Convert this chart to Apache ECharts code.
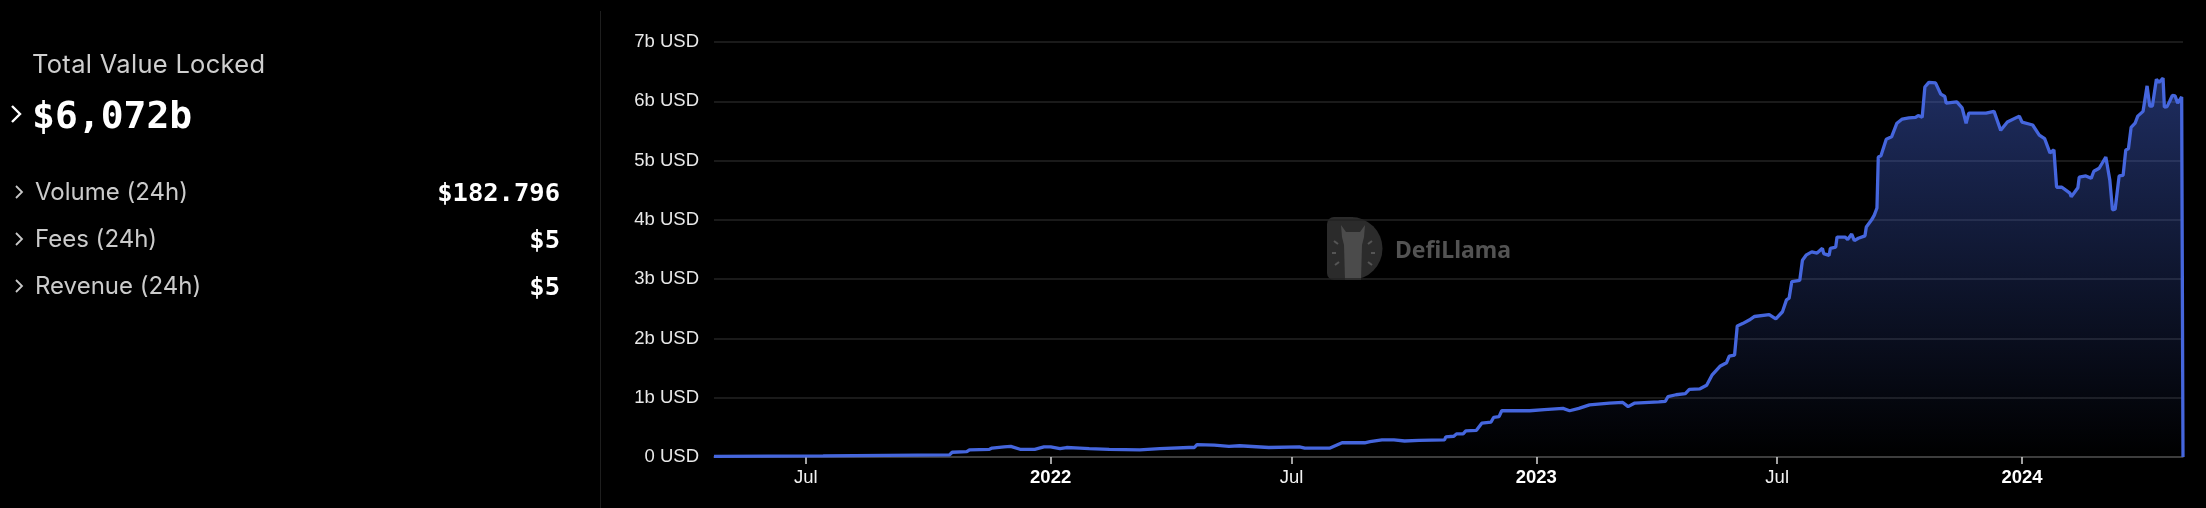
<!DOCTYPE html>
<html>
<head>
<meta charset="utf-8">
<script src="https://cdn.jsdelivr.net/npm/echarts@6/dist/echarts.min.js"></script>
<style>
  html, body { margin: 0; padding: 0; background: #000; width: 2206px; height: 508px; overflow: hidden; }
  #chart { position: absolute; left: 0; top: 0; width: 2206px; height: 508px; }
  #panel { position: absolute; left: 0; top: 0; width: 600px; height: 508px; z-index: 2; font-family: Inter, "Noto Sans", sans-serif; }
  #divider { position: absolute; left: 600px; top: 11px; width: 1px; height: 497px; background: #1e1e1e; z-index: 2; }
  .lbl { position: absolute; left: 35px; font-size: 24px; line-height: 24px; color: #cbcbcb; white-space: nowrap; }
  .val { position: absolute; left: 0; width: 560px; text-align: right; font-family: "DejaVu Sans Mono", monospace; font-weight: bold; font-size: 25.5px; line-height: 24px; color: #fff; white-space: nowrap; }
  .chev { position: absolute; }
</style>
</head>
<body>
<div id="chart"></div>
<div id="divider"></div>
<div id="panel">
  <div class="lbl" style="left:32px; top:51px; font-size:25.5px; line-height:25px; letter-spacing:0.3px; color:#cfcfcf;">Total Value Locked</div>
  <svg class="chev" style="left:9px; top:104px;" width="14" height="20"><polyline points="3,2 11,10 3,18" fill="none" stroke="#fff" stroke-width="2.4"/></svg>
  <div class="val" style="left:32px; width:auto; text-align:left; top:96px; font-size:38px; line-height:38px;">$6,072b</div>

  <svg class="chev" style="left:13px; top:184px;" width="12" height="16"><polyline points="3,2 9,8 3,14" fill="none" stroke="#c8c8c8" stroke-width="1.8"/></svg>
  <div class="lbl" style="top:180px;">Volume (24h)</div>
  <div class="val" style="top:180px;">$182.796</div>

  <svg class="chev" style="left:13px; top:231px;" width="12" height="16"><polyline points="3,2 9,8 3,14" fill="none" stroke="#c8c8c8" stroke-width="1.8"/></svg>
  <div class="lbl" style="top:227px;">Fees (24h)</div>
  <div class="val" style="top:227px;">$5</div>

  <svg class="chev" style="left:13px; top:278px;" width="12" height="16"><polyline points="3,2 9,8 3,14" fill="none" stroke="#c8c8c8" stroke-width="1.8"/></svg>
  <div class="lbl" style="top:274px;">Revenue (24h)</div>
  <div class="val" style="top:274px;">$5</div>
</div>
<script>
// ---- data (TVL in billions USD) ----
const dates2021 = ['2021-04-23','2021-07-14','2021-10-17','2021-10-19','2021-10-30','2021-11-01','2021-11-16','2021-11-18','2021-11-27','2021-12-02','2021-12-09','2021-12-20','2021-12-27'];
const tvl2021   = [0.01,0.02,0.035,0.08,0.09,0.12,0.13,0.15,0.17,0.18,0.13,0.13,0.17];

const dates2022 = ['2022-01-01','2022-01-08','2022-01-13','2022-01-23','2022-01-30','2022-02-14','2022-03-09','2022-03-24','2022-04-15','2022-04-19','2022-04-21','2022-05-04','2022-05-15','2022-05-23','2022-06-14','2022-07-07','2022-07-11','2022-07-30','2022-08-02','2022-08-08','2022-08-25','2022-08-29','2022-09-07','2022-09-16','2022-09-24','2022-10-05','2022-10-24','2022-10-25','2022-10-31','2022-11-02','2022-11-07','2022-11-09','2022-11-17','2022-11-21','2022-11-28','2022-11-30','2022-12-04','2022-12-06','2022-12-27'];
const tvl2022   = [0.17,0.14,0.16,0.15,0.14,0.13,0.12,0.14,0.16,0.16,0.21,0.20,0.18,0.19,0.16,0.17,0.15,0.15,0.18,0.24,0.24,0.26,0.29,0.29,0.27,0.28,0.29,0.34,0.35,0.39,0.39,0.44,0.45,0.57,0.59,0.67,0.68,0.78,0.78];

const dates2023a = ['2023-01-07','2023-01-21','2023-01-26','2023-02-02','2023-02-10','2023-02-25','2023-03-07','2023-03-11','2023-03-16','2023-04-03','2023-04-08','2023-04-10','2023-04-16','2023-04-23','2023-04-26','2023-05-04','2023-05-09','2023-05-13','2023-05-19','2023-05-24','2023-05-26','2023-05-30','2023-06-01','2023-06-05','2023-06-10','2023-06-14','2023-06-25','2023-06-30'];
const tvl2023a   = [0.80,0.82,0.78,0.82,0.88,0.91,0.92,0.85,0.91,0.93,0.94,1.02,1.05,1.07,1.14,1.15,1.21,1.38,1.53,1.59,1.70,1.72,2.21,2.25,2.31,2.37,2.40,2.33];

const dates2023b = ['2023-07-05','2023-07-08','2023-07-10','2023-07-12','2023-07-18','2023-07-20','2023-07-23','2023-07-27','2023-07-31','2023-08-04','2023-08-05','2023-08-09','2023-08-10','2023-08-14','2023-08-15','2023-08-21','2023-08-23','2023-08-26','2023-08-28','2023-08-31','2023-09-05','2023-09-06','2023-09-10','2023-09-12','2023-09-14','2023-09-15','2023-09-17','2023-09-21','2023-09-25','2023-09-29'];
const tvl2023b   = [2.45,2.65,2.68,2.96,2.98,3.32,3.41,3.46,3.44,3.52,3.43,3.40,3.52,3.54,3.71,3.71,3.67,3.76,3.65,3.69,3.73,3.88,4.00,4.08,4.20,5.06,5.08,5.36,5.40,5.63];

const dates2023c = ['2023-10-03','2023-10-08','2023-10-13','2023-10-15','2023-10-18','2023-10-20','2023-10-23','2023-10-28','2023-11-01','2023-11-04','2023-11-05','2023-11-13','2023-11-17','2023-11-20','2023-11-22','2023-12-05','2023-12-11','2023-12-16','2023-12-21','2023-12-30'];
const tvl2023c   = [5.70,5.72,5.73,5.76,5.73,6.24,6.32,6.31,6.12,6.08,5.97,5.99,5.89,5.63,5.80,5.80,5.83,5.51,5.65,5.75];

const dates2024 = ['2024-01-01','2024-01-09','2024-01-14','2024-01-18','2024-01-22','2024-01-25','2024-01-27','2024-01-31',
                   '2024-02-06','2024-02-07','2024-02-09','2024-02-12','2024-02-13','2024-02-18','2024-02-22','2024-02-24','2024-02-28',
                   '2024-03-04','2024-03-07','2024-03-09','2024-03-11','2024-03-14','2024-03-17','2024-03-19','2024-03-21','2024-03-23','2024-03-26','2024-03-28',
                   '2024-04-01','2024-04-04','2024-04-06','2024-04-08','2024-04-11','2024-04-13','2024-04-16','2024-04-17','2024-04-19','2024-04-21','2024-04-23','2024-04-25','2024-04-27','2024-04-28','2024-04-30',
                   '2024-05-01'];
const tvl2024   = [5.65,5.60,5.43,5.37,5.13,5.18,4.55,4.55,
                   4.45,4.39,4.45,4.54,4.72,4.74,4.70,4.82,4.87,
                   5.06,4.67,4.17,4.18,4.74,4.75,5.18,5.20,5.56,5.63,5.75,
                   5.83,6.26,5.92,5.92,6.37,6.32,6.39,5.90,5.91,6.00,6.10,6.09,5.97,5.96,6.072,
                   0];

const xTickDates = ['2021-07-01','2022-01-01','2022-07-01','2023-01-01','2023-07-01','2024-01-01'];
const yTicks = [0,1,2,3,4,5,6,7];
const monthNames = ['Jan','Feb','Mar','Apr','May','Jun','Jul','Aug','Sep','Oct','Nov','Dec'];

// ---- build ----
const allDates = [].concat(dates2021, dates2022, dates2023a, dates2023b, dates2023c, dates2024);
const allTvl = [].concat(tvl2021, tvl2022, tvl2023a, tvl2023b, tvl2023c, tvl2024);
const toTs = s => new Date(s + 'T00:00:00').getTime();
const seriesData = allDates.map((d, i) => [toTs(d), allTvl[i]]);
const tickTs = xTickDates.map(toTs);

const lineColor = '#4566dd';
const chart = echarts.init(document.getElementById('chart'), null, { renderer: 'canvas' });
chart.setOption({
  backgroundColor: '#000',
  animation: false,
  grid: { left: 714, right: 23, top: 42, bottom: 51, containLabel: false },
  xAxis: {
    type: 'value',
    min: 'dataMin',
    max: 'dataMax',
    scale: true,
    axisLine: { show: true, onZero: false, lineStyle: { color: '#4a4a4a', width: 1.5 } },
    axisTick: { show: true, customValues: tickTs, length: 7, lineStyle: { color: '#d8d8d8', width: 1.5 } },
    splitLine: { show: false },
    axisLabel: {
      customValues: tickTs,
      margin: 11,
      color: '#f2f2f2',
      fontSize: 18.5,
      fontFamily: 'Liberation Sans, Arial, sans-serif',
      formatter: function (v) {
        const d = new Date(v);
        if (d.getMonth() === 0) return '{yr|' + d.getFullYear() + '}';
        return monthNames[d.getMonth()];
      },
      rich: { yr: { fontWeight: 'bold', fontSize: 18.5, color: '#ffffff', fontFamily: 'Liberation Sans, Arial, sans-serif' } }
    }
  },
  yAxis: {
    type: 'value',
    min: 0,
    max: 7,
    interval: 1,
    axisLine: { show: false },
    axisTick: { show: false },
    splitLine: { show: true, lineStyle: { color: '#232323', width: 1.5 } },
    axisLabel: {
      margin: 15,
      color: '#e8e8e8',
      fontSize: 18.5,
      fontFamily: 'Liberation Sans, Arial, sans-serif',
      formatter: v => (v === 0 ? '0 USD' : v + 'b USD')
    }
  },
  graphic: [{
    type: 'group',
    left: 1327,
    top: 217,
    silent: true,
    children: [
      { type: 'rect', shape: { x: 0, y: 0, width: 26, height: 63, r: [7, 0, 0, 7] }, style: { fill: '#2b2b2b' } },
      { type: 'sector', shape: { cx: 24, cy: 31.5, r: 31.5, r0: 0, startAngle: -Math.PI / 2, endAngle: Math.PI / 2, clockwise: true }, style: { fill: '#2b2b2b' } },
      { type: 'polygon', shape: { points: [[14,8],[19,15],[33,15],[38,8],[37,20],[35,28],[34,63],[18,63],[17,28],[15,20]] }, style: { fill: '#4b4b4b' } },
      { type: 'line', shape: { x1: 7, y1: 24, x2: 11, y2: 27 }, style: { stroke: '#555', lineWidth: 2 } },
      { type: 'line', shape: { x1: 5, y1: 36, x2: 9, y2: 36 }, style: { stroke: '#555', lineWidth: 2 } },
      { type: 'line', shape: { x1: 8, y1: 48, x2: 12, y2: 45 }, style: { stroke: '#555', lineWidth: 2 } },
      { type: 'line', shape: { x1: 45, y1: 24, x2: 41, y2: 27 }, style: { stroke: '#555', lineWidth: 2 } },
      { type: 'line', shape: { x1: 48, y1: 36, x2: 44, y2: 36 }, style: { stroke: '#555', lineWidth: 2 } },
      { type: 'line', shape: { x1: 45, y1: 48, x2: 41, y2: 45 }, style: { stroke: '#555', lineWidth: 2 } },
      { type: 'text', x: 68, y: 34, style: { text: 'DefiLlama', fill: '#535353', font: 'bold 23px "Noto Sans", sans-serif', verticalAlign: 'middle' } }
    ]
  }],
  series: [{
    type: 'line',
    data: seriesData,
    showSymbol: false,
    symbol: 'none',
    lineStyle: { color: lineColor, width: 3.3 },
    itemStyle: { color: lineColor },
    areaStyle: {
      color: {
        type: 'linear', x: 0, y: 0, x2: 0, y2: 1,
        colorStops: [
          { offset: 0, color: 'rgba(70,104,222,0.62)' },
          { offset: 1, color: 'rgba(70,104,222,0)' }
        ]
      }
    },
    z: 3
  }]
});
</script>
</body>
</html>
